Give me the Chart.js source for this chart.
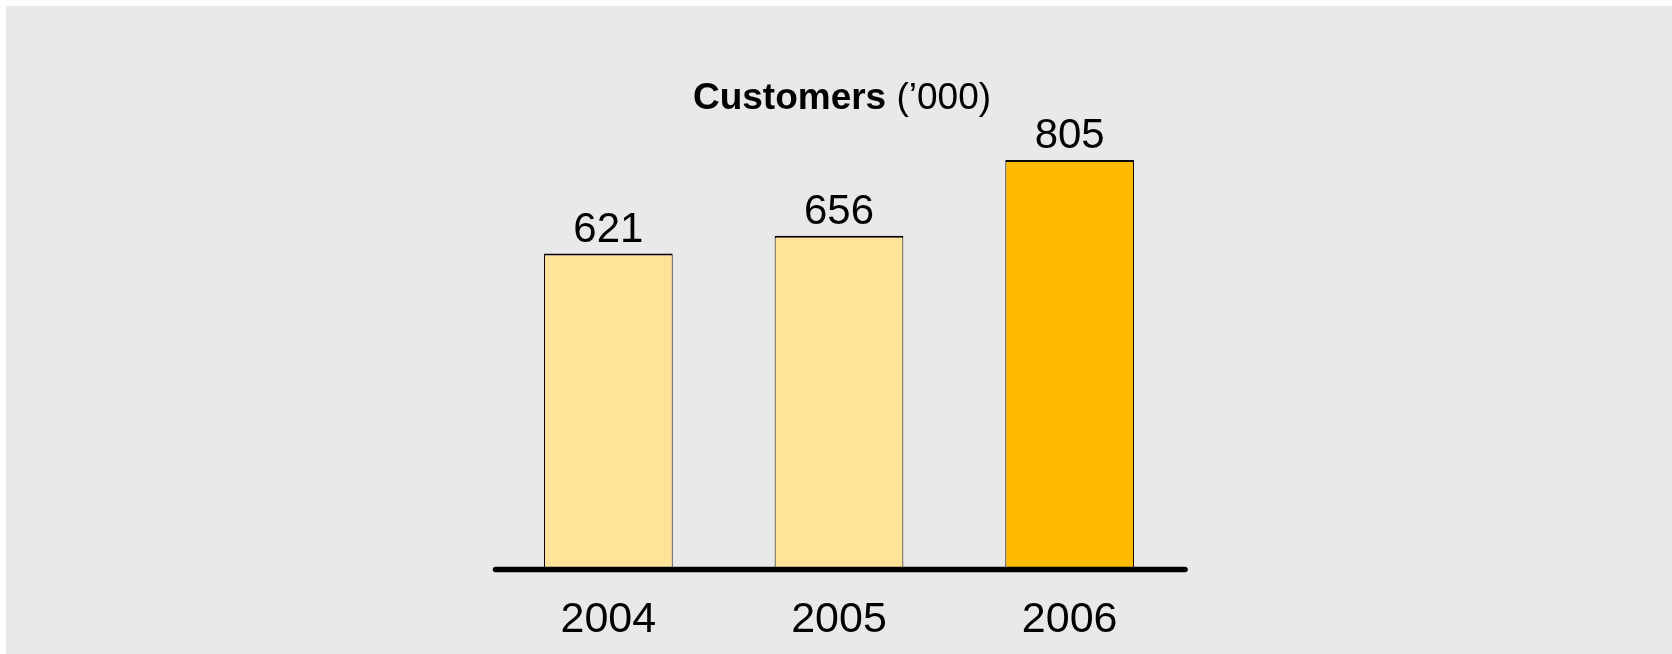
<!DOCTYPE html>
<html>
<head>
<meta charset="utf-8">
<script src="https://cdn.jsdelivr.net/npm/chart.js@4/dist/chart.umd.min.js"></script>
<style>
  html, body { margin: 0; padding: 0; background: #ffffff; }
  #wrap { width: 1672px; height: 654px; position: relative; }
</style>
</head>
<body>
<div id="wrap"><canvas id="c" width="1672" height="654"></canvas></div>
<script>
// Customer numbers, in thousands
const years = ['2004', '2005', '2006'];
const customers = [621, 656, 805];
const barColors = ['#FFE399', '#FFE399', '#FFBB00'];

const FONT = '"Liberation Sans", Arial, Helvetica, sans-serif';

// Grey panel behind the chart
const panelBg = {
  id: 'panelBg',
  beforeDraw(chart) {
    const ctx = chart.ctx;
    ctx.save();
    ctx.fillStyle = '#ffffff';
    ctx.fillRect(0, 0, chart.width, chart.height);
    ctx.fillStyle = '#E9E9E9';
    ctx.fillRect(6, 6, chart.width - 6, chart.height - 6);
    ctx.restore();
  }
};

// Heading with a bold word followed by a normal-weight unit
const heading = {
  id: 'heading',
  afterDraw(chart) {
    const ctx = chart.ctx;
    const area = chart.chartArea;
    const boldPart = 'Customers';
    const normalPart = ' (\u2019000)';
    ctx.save();
    ctx.fillStyle = '#000000';
    ctx.textBaseline = 'alphabetic';
    ctx.font = 'bold 37px ' + FONT;
    const w1 = ctx.measureText(boldPart).width;
    ctx.font = '37px ' + FONT;
    const w2 = ctx.measureText(normalPart).width;
    const cx = (area.left + area.right) / 2 + 3;
    const x0 = cx - (w1 + w2) / 2;
    ctx.font = 'bold 37px ' + FONT;
    ctx.textAlign = 'left';
    ctx.fillText(boldPart, x0, 109);
    ctx.font = '37px ' + FONT;
    ctx.fillText(normalPart, x0 + w1, 109);
    ctx.restore();
  }
};

// Value above each bar
const valueLabels = {
  id: 'valueLabels',
  afterDatasetsDraw(chart) {
    const ctx = chart.ctx;
    const meta = chart.getDatasetMeta(0);
    ctx.save();
    ctx.fillStyle = '#000000';
    ctx.font = '42px ' + FONT;
    ctx.textAlign = 'center';
    ctx.textBaseline = 'alphabetic';
    meta.data.forEach((bar, i) => {
      ctx.fillText(String(customers[i]), bar.x, bar.y - 12);
    });
    ctx.restore();
  }
};

// Thick baseline with rounded ends along the category axis
const baseLine = {
  id: 'baseLine',
  afterDatasetsDraw(chart) {
    const ctx = chart.ctx;
    const xs = chart.scales.x;
    const y0 = chart.scales.y.getPixelForValue(0);
    ctx.save();
    ctx.strokeStyle = '#000000';
    ctx.lineWidth = 5.5;
    ctx.lineCap = 'round';
    ctx.beginPath();
    ctx.moveTo(xs.left + 2.5, y0 + 0.5);
    ctx.lineTo(xs.right, y0 + 0.5);
    ctx.stroke();
    ctx.restore();
  }
};

new Chart(document.getElementById('c'), {
  type: 'bar',
  data: {
    labels: years,
    datasets: [{
      data: customers,
      backgroundColor: barColors,
      borderColor: '#000000',
      borderWidth: { top: 2, left: 1, right: 1, bottom: 0 },
      borderSkipped: false,
      categoryPercentage: 1.0,
      barPercentage: 0.558
    }]
  },
  options: {
    responsive: false,
    animation: false,
    devicePixelRatio: 1,
    layout: { padding: { left: 493, right: 487, top: 61, bottom: 0 } },
    plugins: {
      legend: { display: false },
      title: { display: false },
      tooltip: { enabled: false }
    },
    scales: {
      x: {
        grid: { display: false, drawTicks: false },
        border: { display: false },
        ticks: {
          color: '#000000',
          font: { family: FONT, size: 43 },
          padding: 25
        },
        afterFit(scale) { scale.height = 85; }
      },
      y: {
        display: false,
        min: 0,
        max: 1000,
        grid: { display: false }
      }
    }
  },
  plugins: [panelBg, heading, valueLabels, baseLine]
});
</script>
</body>
</html>
